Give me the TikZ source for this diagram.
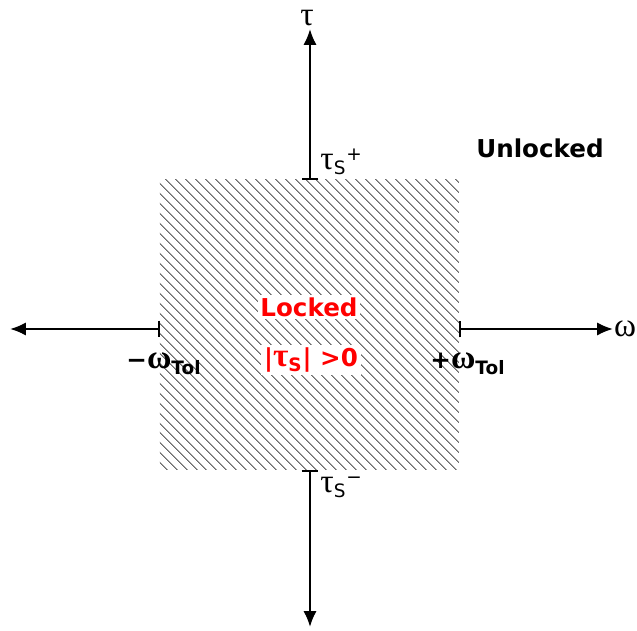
\documentclass[tikz,border=0pt]{standalone}
\usepackage{fontspec}
\setmainfont{DejaVu Sans}
\newfontfamily\greekfont{Liberation Serif}
\newcommand\grk[1]{{\greekfont\fontsize{19}{22}\selectfont #1}}
\newcommand\lowr[1]{\textsubscript{\fontsize{10.5}{12}\selectfont #1}}
\newcommand\upr[1]{\textsuperscript{\fontsize{10.5}{12}\selectfont #1}}
\usetikzlibrary{arrows.meta,patterns.meta}

\begin{document}
\begin{tikzpicture}[x=0.02cm,y=0.02cm,>={Latex[length=9pt,width=7.5pt]},
  |/.tip={Bar[width=9.5pt]},
  axis/.style={line width=1.2pt},
  sym/.style={inner sep=0pt},
  ticklbl/.style={font=\fontsize{14}{17}\selectfont,inner sep=0pt},
  region/.style={font=\bfseries\fontsize{14}{17}\selectfont},
  locked/.style={region,text=red,fill=white,inner sep=1.5pt}]
  \useasboundingbox (-310,-302) rectangle (327,329);
  % Hatched band where the joint stays locked.
  \fill[pattern={Lines[angle=-45,distance=4pt,line width=0.6pt]},pattern color=gray!85!black]
    (-150,-141) rectangle (149,149);
  % Axis ends and tick marks.
  \coordinate (tauTop) at (0,300);
  \coordinate (tauBot) at (0,-298);
  \coordinate (omRight) at (303,0);
  \coordinate (omLeft) at (-300,0);
  \coordinate (tauPlus) at (0,149);
  \coordinate (tauMinus) at (0,-141);
  \coordinate (omPlus) at (149,0);
  \coordinate (omMinus) at (-150,0);
  \draw[axis,|->] (tauPlus) -- (tauTop);
  \draw[axis,|->] (tauMinus) -- (tauBot);
  \draw[axis,|->] (omPlus) -- (omRight);
  \draw[axis,|->] (omMinus) -- (omLeft);
  % Axis names.
  \node[sym] (tau) at (-3,311) {\grk{τ}};
  \node[sym] (omega) at (315,0) {\grk{ω}};
  % Tick labels.
  \node[ticklbl,anchor=base west] (tauSp) at (10,159)
    {\grk{τ}\lowr{S}\upr{+}};
  \node[ticklbl,anchor=base west] (tauSm) at (10,-164)
    {\grk{τ}\lowr{S}\upr{−}};
  \node[ticklbl,anchor=base,font=\bfseries\fontsize{14}{17}\selectfont] (omTm) at (-146,-40)
    {−\grk{ω}\lowr{Tol}};
  \node[ticklbl,anchor=base,font=\bfseries\fontsize{14}{17}\selectfont] (omTp) at (158,-40)
    {+\grk{ω}\lowr{Tol}};
  % Region names.
  \node[region] (unlocked) at (230,181) {Unlocked};
  \node[locked] (locked) at (-1,22) {Locked};
  \node[locked] (lockcond) at (1,-31) {|\grk{τ}\lowr{S}| >0};
\end{tikzpicture}
\end{document}
